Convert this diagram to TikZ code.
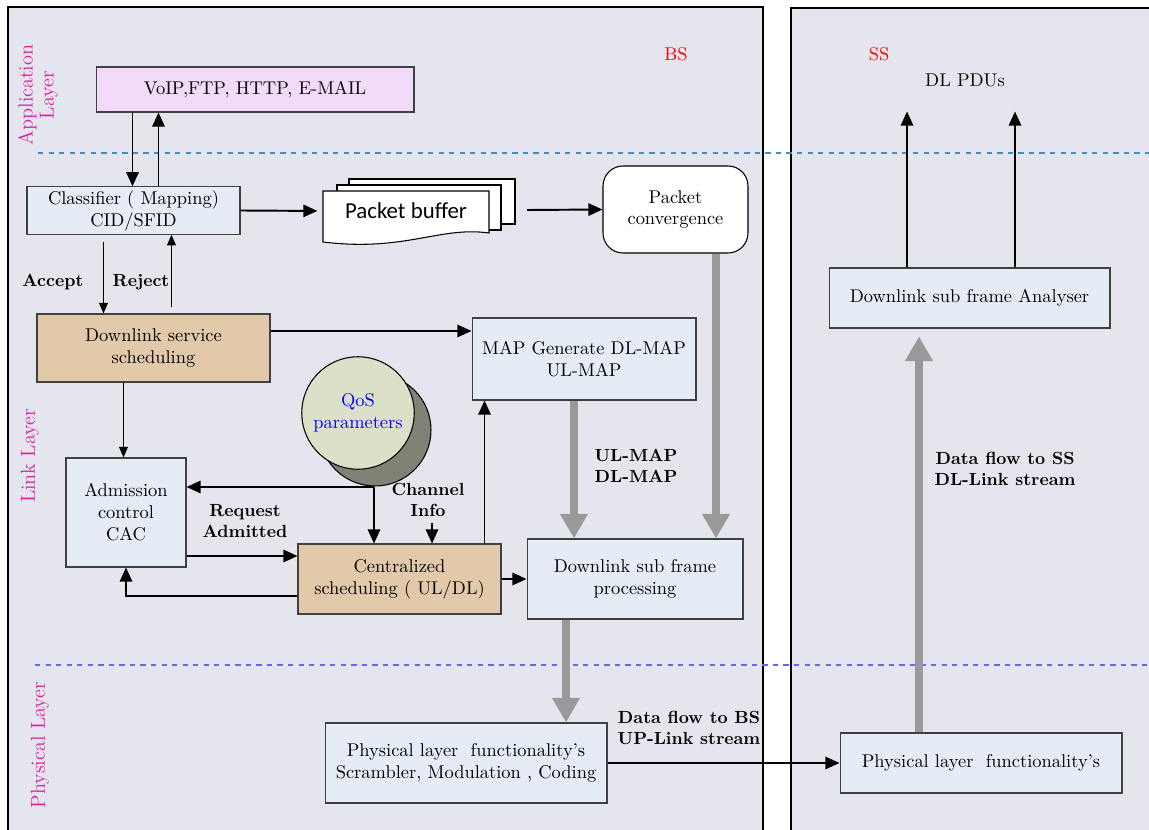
\documentclass[tikz,border=0pt]{standalone}
\usepackage{fontspec}
\newfontfamily\calibrifont{Carlito}
\usepackage{tikz}
\usepackage{xcolor}
\usetikzlibrary{arrows.meta}

\definecolor{panelfill}{RGB}{229,229,237}
\definecolor{boxblue}{RGB}{230,236,246}
\definecolor{boxtan}{RGB}{226,201,169}
\definecolor{boxpink}{RGB}{242,218,251}
\definecolor{layermag}{RGB}{222,30,160}
\definecolor{dashtop}{RGB}{70,140,190}
\definecolor{dashbot}{RGB}{100,100,240}
\definecolor{flowgray}{RGB}{153,153,153}
\definecolor{qosfront}{RGB}{221,224,200}
\definecolor{qosback}{RGB}{128,130,118}

\tikzset{
  box/.style={draw=black!75, line width=0.6pt, fill=boxblue, align=center, inner sep=2pt},
  tanbox/.style={box, fill=boxtan},
  arr/.style={line width=1.1pt, -{Triangle[length=8pt,width=7pt]}},
  thinarr/.style={line width=0.6pt, -{Triangle[length=6pt,width=5pt]}},
  grayarr/.style={draw=flowgray, line width=4.5pt, -{Triangle[length=14pt,width=15pt]}},
  lbl/.style={font=\fontsize{10}{12}\selectfont\bfseries, align=center},
  layer/.style={text=layermag, rotate=90, align=center, font=\fontsize{11.5}{12}\selectfont},
  side/.style={text=red, font=\fontsize{10.5}{12}\selectfont}
}

\begin{document}
\begin{tikzpicture}[x=0.02cm, y=-0.02cm, font=\fontsize{10.5}{12.5}\selectfont]
        \useasboundingbox (0,0) rectangle (1149,830);
        \filldraw[fill=panelfill, line width=1.1pt] (8,7) rectangle (763,845);
        \filldraw[fill=panelfill, line width=1.1pt] (791,8) rectangle (1165,845);
        \draw[dashtop, dashed, line width=0.6pt] (38,153)--(1149,153);
        \draw[dashbot, dashed, line width=0.6pt] (35,665)--(1149,665);

        \node[layer] (applayer) at (38,95) {Application\\Layer};
        \node[layer] (linklayer) at (30,456) {Link Layer};
        \node[layer] (phylayer) at (40,745) {Physical Layer};
        \node[side] (bs) at (676,54) {BS};
        \node[side] (ss) at (879,54) {SS};
        \node (pdu) at (965,80) {DL PDUs};

        \node[box, fill=boxpink, minimum width=6.36cm, minimum height=0.90cm] (app) at (255,89.5) {VoIP,FTP, HTTP, E-MAIL};
        \node[box, minimum width=4.26cm, minimum height=0.90cm] (cls) at (133.5,210.5) {Classifier ( Mapping)\\CID/SFID};
        \filldraw[fill=white, line width=0.6pt] (349,179) rectangle (515,224);
        \filldraw[fill=white, line width=0.6pt] (337,185) rectangle (501,230);
        \filldraw[fill=white, line width=0.6pt] (323,191)--(489,191)--(489,233) .. controls (440,226) and (405,252) .. (323,242)--cycle;
        \node[minimum width=3.32cm, minimum height=1.0cm, font=\calibrifont\fontsize{13}{15}\selectfont] (buf) at (406,211) {Packet buffer};
        \coordinate (bufout) at (527,210);
        \node[box, fill=white, draw=black, rounded corners=0.4cm, minimum width=2.90cm, minimum height=1.74cm] (conv) at (675.5,209.5) {Packet\\convergence};
        \node[tanbox, minimum width=4.66cm, minimum height=1.36cm] (dss) at (153.5,348) {Downlink service\\scheduling};
        \node[box, minimum width=4.48cm, minimum height=1.64cm] (map) at (584,359) {MAP Generate DL-MAP\\UL-MAP};
        \filldraw[fill=qosback, draw=black, line width=0.6pt] (375,430) circle (1.12cm);
        \node[circle, draw=black, line width=0.6pt, fill=qosfront, minimum size=2.24cm, align=center, text=blue] (qos) at (358,413) {QoS\\parameters};
        \node[box, minimum width=2.40cm, minimum height=2.18cm] (cac) at (126,512.5) {Admission\\control\\CAC};
        \node[tanbox, minimum width=4.06cm, minimum height=1.40cm] (cent) at (399.5,579) {Centralized\\scheduling ( UL/DL)};
        \node[box, minimum width=4.32cm, minimum height=1.60cm] (dsfp) at (635,579) {Downlink sub frame\\processing};
        \node[box, minimum width=5.64cm, minimum height=1.60cm] (phyb) at (466,763) {Physical layer\ \ functionality's\\Scrambler, Modulation , Coding};
        \node[box, minimum width=5.62cm, minimum height=1.20cm] (ana) at (969.5,298) {Downlink sub frame Analyser};
        \node[box, minimum width=5.64cm, minimum height=1.20cm] (phys) at (981,763) {Physical layer\ \ functionality's};

        \node[lbl] (accept) at (53,282) {Accept};
        \node[lbl] (reject) at (141,282) {Reject};
        \node[lbl] (reqadm) at (245,521) {Request\\Admitted};
        \node[lbl] (chinfo) at (428,500) {Channel\\Info};
        \node[lbl] (maplbl) at (636,466) {UL-MAP\\DL-MAP};
        \node[lbl] (bsflow) at (689,728) {Data flow to BS\\UP-Link stream};
        \node[lbl] (ssflow) at (1005,469) {Data flow to SS\\DL-Link stream};

        \draw[arr] ([xshift=0.74cm]app.south west) -- ([xshift=0.74cm]app.south west |- cls.north);
        \draw[arr] ([xshift=1.26cm]app.south west |- cls.north) -- ([xshift=1.26cm]app.south west);
        \draw[arr, shorten >=3pt] (cls.east) -- (buf.west);
        \draw[arr] (bufout) -- (conv.west);
        \draw[thinarr] ([xshift=1.54cm,yshift=-0.14cm]cls.south west) -- ([xshift=1.54cm]cls.south west |- dss.north);
        \draw[thinarr] ([xshift=2.9cm,yshift=0.12cm]cls.south west |- dss.north) -- ([xshift=2.9cm]cls.south west);
        \draw[arr] ([yshift=0.34cm]dss.east) -- ([yshift=0.34cm]dss.east -| map.west);
        \draw[thinarr] ([xshift=1.74cm]dss.south west) -- ([xshift=1.74cm]dss.south west |- cac.north);
        \coordinate (qj) at (374,487);
        \draw[arr] (qj) -- (qj -| cac.east);
        \draw[arr] (qj) -- (qj |- cent.north);
        \draw[arr] ([yshift=-0.87cm]cac.east) -- ([yshift=-0.87cm]cac.east -| cent.west);
        \draw[arr] ([yshift=-0.34cm]cent.west) -| (cac.south);
        \draw[arr] ([xshift=0.08cm]chinfo.south) -- ([xshift=0.08cm]chinfo.south |- cent.north);
        \draw[arr] ([xshift=-0.34cm]cent.north east) -- ([xshift=-0.34cm]cent.north east |- map.south);
        \draw[arr] (cent.east) -- (dsfp.west);
        \draw[grayarr] ([xshift=-0.2cm]map.south) -- ([xshift=-0.2cm]map.south |- dsfp.north);
        \draw[grayarr] ([xshift=0.81cm]conv.south) -- ([xshift=0.81cm]conv.south |- dsfp.north);
        \draw[grayarr] ([xshift=-1.38cm]dsfp.south) -- ([xshift=-1.38cm]dsfp.south |- phyb.north);
        \draw[grayarr, shorten >=0.16cm] ([xshift=-1.24cm]phys.north) -- ([xshift=-1.24cm]phys.north |- ana.south);
        \draw[arr] (phyb.east) -- (phys.west);
        \draw[arr] ([xshift=-1.25cm]ana.north) -- ++(0,3.12cm);
        \draw[arr] ([xshift=0.91cm]ana.north) -- ++(0,3.12cm);
\end{tikzpicture}
\end{document}
